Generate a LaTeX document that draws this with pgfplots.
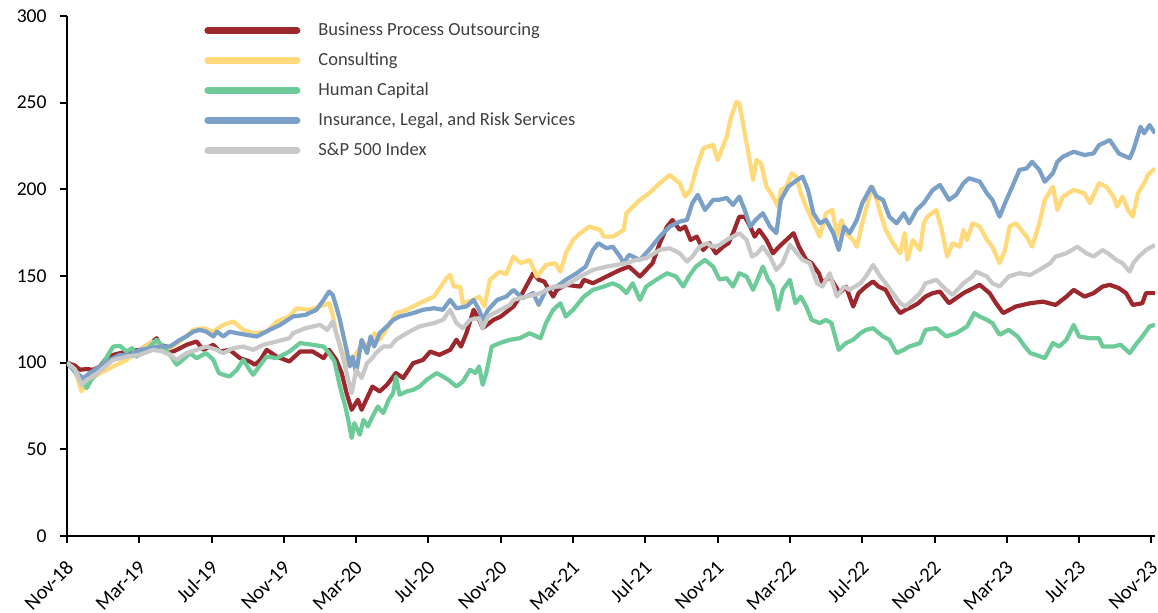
\documentclass[border=0pt]{standalone}
\usepackage{fontspec}
\setmainfont{Carlito}
\usepackage{pgfplots}
\pgfplotsset{compat=1.18}

\definecolor{bpo}{HTML}{9C272C}
\definecolor{consult}{HTML}{FFD97A}
\definecolor{humcap}{HTML}{6CCB98}
\definecolor{insur}{HTML}{7BA0C8}
\definecolor{spx}{HTML}{C8C8C8}
\definecolor{legtext}{HTML}{404040}

\begin{document}
\begin{tikzpicture}
\begin{axis}[
    scale only axis,
    width=544pt, height=260pt,
    xmin=0, xmax=60.2, ymin=0, ymax=300,
    axis lines*=left,
    axis line style={line width=1pt, black},
    tick align=outside,
    major tick length=3.5pt,
    tick style={line width=1pt, black},
    xtick={0,4,...,60},
    xticklabels={Nov-18,Mar-19,Jul-19,Nov-19,Mar-20,Jul-20,Nov-20,Mar-21,Jul-21,Nov-21,Mar-22,Jul-22,Nov-22,Mar-23,Jul-23,Nov-23},
    ytick={0,50,...,300},
    /pgf/number format/assume math mode=true,
    xticklabel style={font=\fontsize{10.2}{12}\selectfont, inner sep=0pt, anchor=east, xshift=1.5pt, yshift=-10.5pt, rotate=45},
    yticklabel style={font=\fontsize{9.8}{12}\selectfont, inner sep=0pt, xshift=-6.5pt},
    legend cell align=left,
    legend image code/.code={\draw[#1, line width=3.5pt, line cap=round] (1.75pt,0pt) -- (46.25pt,0pt);},
    legend style={draw=none, fill=none, inner sep=0pt,
        at={(axis description cs:0,1)}, anchor=north west,
        xshift=68.5pt, yshift=-2.5pt,
        font=\fontsize{9.25}{11}\selectfont, text=legtext,
        row sep=6pt,
        nodes={inner sep=0pt, text height=7pt, text depth=2pt},
        /tikz/every odd column/.append style={column sep=9pt}},
    every axis plot/.append style={line width=2.1pt, line join=round, no marks},
]
\addplot[bpo] coordinates {(0,100) (0.44,98.3) (0.72,95.9) (1.09,96.3) (1.46,95.9) (1.83,97.8) (2.1,101.6) (2.56,104.5) (3.3,106.4) (4.04,107.4) (4.76,112.2) (4.96,114.1) (5.14,110.3) (5.5,109.3) (5.88,106.4) (6.62,110.3) (7.17,112.2) (7.54,107.4) (8.09,110.3) (8.46,106.4) (9.0,107.4) (9.57,102.6) (10.1,100.7) (10.4,98.8) (10.7,101.6) (11.05,107.4) (11.6,103.5) (12.3,100.7) (12.9,106.4) (13.6,106.4) (14.2,102.6) (14.5,107.4) (14.9,101.6) (15.2,94.0) (15.47,82.4) (15.75,72.8) (16.1,78.6) (16.3,72.8) (16.6,79.6) (16.9,86.2) (17.3,83.4) (17.7,87.2) (18.2,94.0) (18.6,91.1) (19.15,99.7) (19.7,101.6) (20.1,106.4) (20.6,104.5) (21.2,107.4) (21.55,113.2) (21.8,109.3) (22.1,117.0) (22.5,130.5) (22.8,124.7) (23.0,119.9) (23.6,124.7) (24.0,126.6) (24.7,132.4) (25.2,140.1) (25.8,151.6) (26.1,147.8) (26.4,146.8) (26.9,138.1) (27.1,142.0) (27.6,144.9) (28.4,143.9) (28.6,147.8) (29.1,145.8) (29.85,149.7) (30.6,153.5) (31.1,155.4) (31.7,149.7) (32.4,157.4) (32.8,168.9) (33.2,178.5) (33.5,182.3) (33.9,176.6) (34.2,178.5) (34.5,170.8) (34.85,172.7) (35.2,165.0) (35.55,168.9) (35.9,163.1) (36.3,166.9) (36.6,168.9) (36.85,174.7) (37.2,184.2) (37.5,184.2) (37.8,178.5) (38.05,172.7) (38.3,176.6) (38.7,170.8) (39.06,163.1) (39.4,166.9) (39.8,170.8) (40.2,174.7) (40.5,166.9) (40.9,159.3) (41.2,157.4) (41.6,151.6) (41.8,145.8) (42.2,149.7) (42.75,140.1) (43.1,143.9) (43.5,132.4) (43.8,140.1) (44.2,143.9) (44.6,146.8) (44.9,143.9) (45.3,142.0) (45.7,134.3) (46.1,128.6) (46.4,130.5) (46.8,132.4) (47.1,134.3) (47.5,138.1) (47.9,140.1) (48.3,141.0) (48.8,134.3) (49.6,140.1) (50.5,144.9) (51.05,140.1) (51.4,134.3) (51.8,128.6) (52.5,132.4) (53.3,134.3) (54.0,135.2) (54.7,133.3) (55.3,138.1) (55.7,142.0) (56.3,138.1) (56.8,140.1) (57.3,143.9) (57.7,144.9) (58.2,143.0) (58.6,140.1) (58.97,133.3) (59.5,134.3) (59.7,140.1) (60.2,140.1)};
\addlegendentry{Business Process Outsourcing}
\addplot[consult] coordinates {(0,100) (0.44,96) (0.8,83.4) (1.27,90.1) (1.83,94.0) (2.56,97.8) (3.3,101.6) (4.04,107.4) (4.76,112.2) (5.14,109) (5.7,108.4) (6.25,112.2) (6.99,118.9) (7.54,119.9) (8.09,117.9) (8.65,121.8) (9.2,123.7) (9.75,118.9) (10.3,117.0) (11.05,117.9) (11.6,123.7) (12.3,126.6) (12.7,131.4) (13.4,130.5) (14.0,132.4) (14.5,134.3) (14.7,127.6) (14.9,117.0) (15.2,107.4) (15.5,97.8) (15.9,103.5) (16.4,111.3) (16.7,109.3) (17.0,117) (17.3,113.2) (17.9,122.8) (18.2,128.6) (18.8,130.5) (19.5,134.3) (20.3,138.1) (21.0,148.7) (21.2,150.6) (21.4,143.9) (21.75,143.9) (21.9,134.3) (22.5,136.2) (22.8,138.1) (23.1,132.4) (23.4,147.8) (23.95,152.5) (24.3,151) (24.7,161.2) (25.1,157.4) (25.6,159.3) (26.0,149.7) (26.5,156.4) (27.0,157.4) (27.3,152.5) (27.6,163.1) (28.0,170.8) (28.4,174.7) (28.9,178.5) (29.5,176.6) (29.7,172.7) (30.2,172.7) (30.8,176.6) (30.95,186.2) (31.7,193.9) (32.2,197.7) (32.8,203.5) (33.35,208.3) (33.9,203.5) (34.2,195.8) (34.5,199.6) (34.8,211.2) (35.2,223.7) (35.75,225.6) (36.0,216.9) (36.5,230.3) (36.75,241.9) (37.04,250.5) (37.2,249.6) (37.4,238.1) (37.6,226.5) (37.8,215.0) (37.96,205.4) (38.15,216.9) (38.4,215.0) (38.7,201.5) (39.06,195.8) (39.34,190.0) (39.5,199.6) (39.8,201.5) (40.1,209.3) (40.35,207.3) (40.6,197.7) (40.9,190.0) (41.3,180.4) (41.65,172.7) (42.0,186.2) (42.35,188.1) (42.6,172.7) (42.85,182.3) (43.1,174.7) (43.5,170.8) (43.7,166.9) (44.0,180.4) (44.4,195.8) (44.6,201.5) (45.0,186.2) (45.3,176.6) (45.7,168.9) (46.1,163.1) (46.35,174.7) (46.5,159.3) (46.8,170.8) (47.2,165.0) (47.4,180.4) (47.6,184.2) (48.1,188.1) (48.4,176.6) (48.7,161.2) (49.0,168.9) (49.4,166.9) (49.6,176.6) (49.8,170.8) (50.1,180.4) (50.5,178.5) (50.9,170.8) (51.2,166.9) (51.6,157.4) (51.9,165.0) (52.15,178.5) (52.5,180.4) (53.1,172.7) (53.4,166.9) (53.8,180.4) (54.1,193.9) (54.55,201.5) (54.8,188.1) (55.1,195.8) (55.7,199.6) (56.3,197.7) (56.6,192.0) (57.1,203.5) (57.5,201.5) (57.9,195.8) (58.1,190) (58.4,195.8) (58.7,188.1) (58.97,184.2) (59.25,197.7) (59.6,203.5) (59.8,208.3) (60.2,212.1)};
\addlegendentry{Consulting}
\addplot[humcap] coordinates {(0,100) (0.35,95.9) (0.63,92.0) (0.9,89.1) (1.09,85.3) (1.35,90.1) (1.64,94.0) (2.0,99.7) (2.38,106.4) (2.56,109.3) (2.93,109.7) (3.3,106.4) (3.6,108.4) (3.85,103.5) (4.4,107.4) (4.96,113.2) (5.3,109.3) (5.7,104.5) (6.07,98.8) (6.4,101.6) (6.8,105.5) (7.17,102.6) (7.7,105.5) (8.1,101.6) (8.4,94.0) (8.65,93.0) (9.0,92.0) (9.4,95.9) (9.75,101.6) (10.1,95.9) (10.3,93) (10.7,98.8) (11.05,103.5) (11.6,102.6) (12.3,106.4) (12.9,111.3) (13.6,110.3) (14.2,109.3) (14.5,105.5) (14.8,100.7) (15.1,86.2) (15.4,74.7) (15.56,67.0) (15.75,56.5) (15.9,65.1) (16.2,58.4) (16.4,67.0) (16.65,63.2) (16.9,68.9) (17.2,74.7) (17.5,70.9) (17.8,78.6) (18.05,82.4) (18.2,92.0) (18.4,81.5) (18.8,83.4) (19.15,84.3) (19.5,86.2) (19.9,90.1) (20.45,94.0) (20.8,92.0) (21.1,90.1) (21.55,86.2) (21.9,89.1) (22.3,95.9) (22.6,94.0) (22.8,97.8) (23.0,87.2) (23.2,94.0) (23.5,109.3) (23.95,111.3) (24.5,113.2) (25.05,114.1) (25.6,117.0) (26.2,114.1) (26.5,122.8) (26.9,130.5) (27.3,134.3) (27.6,126.6) (28.0,130.5) (28.6,138.1) (29.1,142.0) (29.7,143.9) (30.2,145.8) (30.6,143.9) (30.95,140.1) (31.3,145.8) (31.7,136.2) (32.05,143.9) (32.6,147.8) (33.2,151.6) (33.7,149.7) (34.1,143.9) (34.4,149.7) (34.8,155.4) (35.3,159.3) (35.75,155.4) (36.1,148) (36.5,148.7) (36.85,143.9) (37.2,151.6) (37.6,149.7) (37.96,142.0) (38.2,147.8) (38.5,155.4) (38.8,147.8) (39.06,143.9) (39.34,130.5) (39.6,142.0) (40.0,147.8) (40.3,134.3) (40.6,138.1) (40.9,132.4) (41.2,124.7) (41.65,122.8) (42.0,124.7) (42.3,122.8) (42.7,107.4) (43.1,111.3) (43.5,113.2) (43.9,117.0) (44.2,118.9) (44.6,119.9) (45.15,115.1) (45.5,113.2) (45.9,105.5) (46.3,107.4) (46.6,109.3) (47.2,111.3) (47.5,118.9) (48.1,119.9) (48.65,115.1) (49.2,117) (49.8,120.9) (50.2,128.6) (50.5,126.6) (50.9,124.7) (51.2,122.8) (51.6,116.1) (52.1,118.9) (52.6,115.1) (53.0,109.3) (53.3,105.5) (53.6,104.5) (54.1,102.6) (54.55,111.3) (54.9,109.3) (55.3,113.2) (55.7,121.8) (56.0,115.1) (56.6,114.1) (57.1,114.1) (57.3,109.3) (57.9,109.3) (58.3,110.3) (58.8,105.5) (59.2,111.3) (59.5,115.1) (59.9,120.9) (60.2,121.8)};
\addlegendentry{Human Capital}
\addplot[insur] coordinates {(0,100) (0.53,94.0) (0.9,91.1) (1.27,94) (1.83,97.8) (2.38,101.6) (2.93,104.5) (3.5,104.5) (4.04,107.4) (4.6,108.4) (5.14,109.3) (5.7,109.3) (6.25,113.2) (6.6,115.1) (6.99,117.9) (7.35,118.9) (7.7,117.9) (8.1,115.1) (8.3,117.9) (8.65,115.1) (9.0,117.9) (9.4,117) (9.9,116.1) (10.5,115.1) (10.86,117.0) (11.2,118.9) (11.8,121.8) (12.5,126.6) (13.2,127.6) (13.8,130.5) (14.2,136.2) (14.5,141.0) (14.7,139.1) (14.9,132.4) (15.1,124.7) (15.3,115.1) (15.47,107.4) (15.65,97.8) (15.8,103.5) (16.0,94.0) (16.3,113.2) (16.6,105.5) (16.8,115.1) (17.0,109.3) (17.3,117.0) (17.7,120.9) (18.05,124.7) (18.4,126.6) (18.8,127.6) (19.15,128.6) (19.7,130.5) (20.3,131.4) (20.8,130.5) (21.2,136.2) (21.55,131.4) (22.1,132.4) (22.5,136.2) (22.8,130.5) (23.0,124.7) (23.3,130.5) (23.8,136.2) (24.3,138.1) (24.7,142.0) (25.2,137.2) (25.8,140.1) (26.1,133.3) (26.5,142.0) (27.1,143.9) (27.6,147.8) (28.2,151.6) (28.7,155.4) (29.1,165.0) (29.4,168.9) (29.85,166) (30.2,166.9) (30.6,161.2) (30.8,157.4) (31.1,162.2) (31.7,159.3) (32.2,165.0) (32.8,172.7) (33.35,178.5) (33.9,181.4) (34.3,182.3) (34.6,192.0) (34.9,196.8) (35.3,188.1) (35.75,193.9) (36.1,194) (36.5,195) (36.85,191.0) (37.2,195.8) (37.5,188.1) (37.8,178.5) (38.1,182.3) (38.5,186.2) (38.9,178.5) (39.25,174.7) (39.5,193.9) (39.9,201.5) (40.4,205.4) (40.7,207.3) (41.0,199.6) (41.3,186.2) (41.65,180.4) (42.0,182.3) (42.4,174.7) (42.7,165.0) (43.0,178.5) (43.3,174.7) (43.7,182.3) (44.0,192.0) (44.5,201.5) (44.8,195.8) (45.15,193.9) (45.5,184.2) (45.9,180.4) (46.3,186.2) (46.6,180.4) (47.0,188.1) (47.4,192.0) (47.9,199.6) (48.3,202.5) (48.8,193.9) (49.2,196.8) (49.6,203.5) (49.9,206.4) (50.5,204.5) (50.9,197.7) (51.2,193.9) (51.6,184.2) (51.9,192.0) (52.3,201.5) (52.7,211.2) (53.1,212.1) (53.4,215.9) (53.8,211.2) (54.1,204.4) (54.55,209.3) (54.8,215.9) (55.1,218.8) (55.7,221.7) (56.3,219.8) (56.8,220.7) (57.1,225.5) (57.7,228.4) (58.2,220.7) (58.8,217.9) (59.0,222.7) (59.4,236.1) (59.6,232.3) (59.9,237.1) (60.2,232.3)};
\addlegendentry{Insurance, Legal, and Risk Services}
\addplot[spx] coordinates {(0,100) (0.44,96) (0.81,87.2) (1.09,90.1) (1.46,92.0) (2.0,96.8) (2.56,101.6) (3.3,103.5) (4.04,104.5) (4.76,107.4) (5.3,106.4) (5.7,104.5) (6.07,101.6) (6.6,105.5) (7.17,107.4) (7.7,109.3) (8.3,107.4) (8.65,105.5) (9.2,108.4) (9.75,109.3) (10.3,107.4) (10.86,110.3) (11.6,112.2) (12.3,114.1) (12.5,117.0) (13.2,119.9) (14.0,121.8) (14.4,118.9) (14.7,123.7) (15.0,113.2) (15.3,101.6) (15.56,90.1) (15.75,82.4) (16.0,95.9) (16.3,91.1) (16.6,99.7) (16.8,101.6) (17.1,105.5) (17.5,109.3) (17.9,109.3) (18.2,113.2) (18.8,117) (19.5,120.9) (20.3,122.8) (20.8,124.7) (21.2,130.5) (21.55,122.8) (21.9,119.9) (22.3,124.7) (22.8,125.7) (23.0,119.9) (23.3,126.6) (23.8,129.5) (24.5,133.3) (24.7,136.2) (25.4,138.1) (26.2,140.1) (26.9,143.9) (27.4,143.9) (27.8,145.8) (28.4,149.7) (29.1,153.5) (29.85,155.4) (30.4,156.4) (30.95,157.4) (31.5,159.3) (32.05,160.3) (32.8,165.0) (33.35,166.0) (33.9,163.1) (34.3,158.3) (34.6,161.2) (35.0,166.9) (35.4,168.9) (35.75,166.9) (36.1,167.9) (36.5,170.8) (36.85,172.7) (37.2,174.7) (37.6,170.8) (37.9,161.2) (38.2,163.1) (38.5,166.9) (38.9,161.2) (39.25,153.5) (39.6,157.4) (40.0,168.0) (40.4,163.1) (40.7,159.3) (41.1,157.4) (41.5,145.8) (41.8,143.9) (42.2,151.6) (42.6,138.1) (43.0,143.9) (43.3,142.0) (43.9,145.8) (44.2,149.7) (44.6,156.4) (45.0,149.7) (45.3,145.8) (45.7,140.1) (46.1,134.3) (46.4,132.4) (46.8,136.2) (47.2,140.1) (47.5,145.8) (48.1,147.8) (48.65,142.0) (49.0,139.1) (49.6,145.8) (50.1,149.7) (50.3,152.5) (50.9,149.7) (51.2,145.8) (51.6,143.9) (52.1,149.7) (52.7,151.6) (53.3,150.6) (53.8,153.5) (54.4,157.4) (54.7,161.2) (55.3,163.1) (55.9,166.9) (56.4,163.1) (56.8,161.2) (57.3,165.0) (57.6,163.1) (58.05,159.3) (58.4,157.4) (58.8,152.5) (59.0,157.4) (59.3,161.2) (59.7,165) (60.2,167.9)};
\addlegendentry{S\&P 500 Index}
\end{axis}
\pgfresetboundingbox
\path[use as bounding box] ([shift={(-33.5pt,-38.5pt)}]current axis.south west) rectangle ([shift={(1.5pt,8pt)}]current axis.north east);
\end{tikzpicture}
\end{document}
